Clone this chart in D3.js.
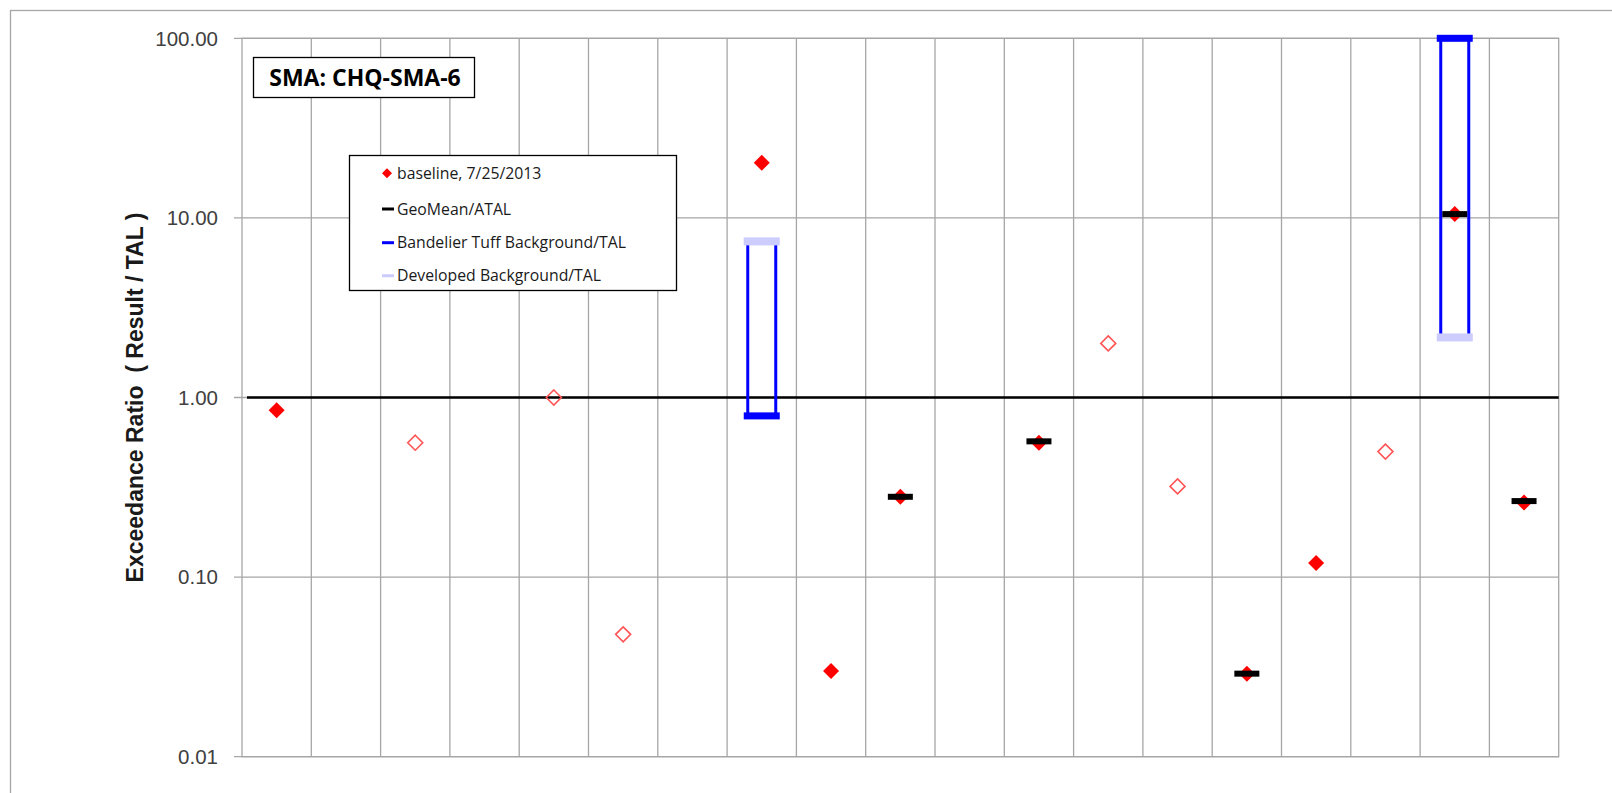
<!DOCTYPE html>
<html>
<head>
<meta charset="utf-8">
<script src="https://cdn.jsdelivr.net/npm/d3@7"></script>
<style>
  body { margin: 0; background: #fff; }
</style>
</head>
<body>
<script>
// Exceedance ratio chart, log scale, 19 analyte columns

var width = 1612;
var height = 793;

var categories = d3.range(19); // columns have no labels

// detected baseline results (filled diamonds)
var detectVals = [0.85, null, null, null, null, null, null, 20.3, 0.030, 0.28,
  null, 0.56, null, null, 0.029, 0.12, null, 10.5, 0.26];
// non-detect baseline results (open diamonds)
var nondetectVals = [null, null, 0.56, null, 1.0, 0.048, null, null, null, null,
  null, null, 2.0, 0.32, null, null, 0.50, null, null];
var geoMeanVals = [null, null, null, null, null, null, null, null, null, 0.28,
  null, 0.57, null, null, 0.029, null, null, 10.5, 0.265];
var bandelierVals = [null, null, null, null, null, null, null, 0.79, null, null,
  null, null, null, null, null, null, null, 100, null];
var developedVals = [null, null, null, null, null, null, null, 7.4, null, null,
  null, null, null, null, null, null, null, 2.16, null];

var yTicks = [0.01, 0.1, 1, 10, 100];
var legendLabels = ["baseline, 7/25/2013", "GeoMean/ATAL",
  "Bandelier Tuff Background/TAL", "Developed Background/TAL"];

var plot = { left: 242, right: 1558.7, top: 38.3, bottom: 756.7 };

var xScale = d3.scaleBand()
               .domain(categories)
               .range([plot.left, plot.right]);

var yScale = d3.scaleLog()
               .domain([0.01, 100])
               .range([plot.bottom, plot.top]);

var cx = function(i){ return xScale(i) + xScale.bandwidth() / 2; };

var svg = d3.select("body")
            .append("svg")
            .attr("width", width)
            .attr("height", height);

// outer chart frame
svg.append("rect")
   .attr("x", 10.5).attr("y", 10.5)
   .attr("width", 1700).attr("height", 900)
   .attr("fill", "none")
   .attr("stroke", "#a6a6a6")
   .attr("stroke-width", 1.3);

// gridlines
var grid = svg.append("g").attr("stroke", "#a6a6a6").attr("stroke-width", 1.3);

grid.selectAll("line.v")
    .data(categories.slice(1))
    .enter()
    .append("line")
    .attr("x1", function(d){ return xScale(d); })
    .attr("x2", function(d){ return xScale(d); })
    .attr("y1", plot.top)
    .attr("y2", plot.bottom);

grid.selectAll("line.h")
    .data(yTicks)
    .enter()
    .append("line")
    .attr("x1", plot.left - 8)
    .attr("x2", plot.right)
    .attr("y1", function(d){ return yScale(d); })
    .attr("y2", function(d){ return yScale(d); });

grid.append("rect")
    .attr("x", plot.left).attr("y", plot.top)
    .attr("width", plot.right - plot.left)
    .attr("height", plot.bottom - plot.top)
    .attr("fill", "none");

// y axis labels
svg.selectAll("text.tick")
   .data(yTicks)
   .enter()
   .append("text")
   .attr("class", "tick")
   .attr("x", 218)
   .attr("y", function(d){ return yScale(d); })
   .attr("dy", "0.36em")
   .attr("text-anchor", "end")
   .attr("font-family", "Liberation Sans, Arial, sans-serif")
   .attr("font-size", "20.5px")
   .attr("fill", "#404040")
   .text(function(d){ return d3.format(".2f")(d); });

svg.append("text")
   .attr("transform", "translate(143," + ((plot.top + plot.bottom) / 2) + ") rotate(-90)")
   .attr("text-anchor", "middle")
   .attr("font-family", "Liberation Sans, Arial, sans-serif")
   .attr("font-weight", "bold")
   .attr("font-size", "23px")
   .attr("fill", "#1a1a1a")
   .attr("xml:space", "preserve")
   .text("Exceedance Ratio  ( Result / TAL )");

// TAL = 1 reference line
svg.append("line")
   .attr("x1", plot.left + 5)
   .attr("x2", plot.right)
   .attr("y1", yScale(1))
   .attr("y2", yScale(1))
   .attr("stroke", "#000")
   .attr("stroke-width", 2.6);

// background range boxes
var bgIdx = categories.filter(function(i){ return bandelierVals[i] != null; });
var half = 14;

svg.selectAll("line.bgl")
   .data(bgIdx)
   .enter()
   .append("line")
   .attr("x1", function(i){ return cx(i) - half; })
   .attr("x2", function(i){ return cx(i) - half; })
   .attr("y1", function(i){ return yScale(bandelierVals[i]); })
   .attr("y2", function(i){ return yScale(developedVals[i]); })
   .attr("stroke", "#0000ff").attr("stroke-width", 3);

svg.selectAll("line.bgr")
   .data(bgIdx)
   .enter()
   .append("line")
   .attr("x1", function(i){ return cx(i) + half; })
   .attr("x2", function(i){ return cx(i) + half; })
   .attr("y1", function(i){ return yScale(bandelierVals[i]); })
   .attr("y2", function(i){ return yScale(developedVals[i]); })
   .attr("stroke", "#0000ff").attr("stroke-width", 3);

svg.selectAll("rect.dev")
   .data(bgIdx)
   .enter()
   .append("rect")
   .attr("x", function(i){ return cx(i) - 18; })
   .attr("y", function(i){ return yScale(developedVals[i]) - 4; })
   .attr("width", 36).attr("height", 8)
   .attr("fill", "#ccccff");

svg.selectAll("rect.band")
   .data(bgIdx)
   .enter()
   .append("rect")
   .attr("x", function(i){ return cx(i) - 18; })
   .attr("y", function(i){ return yScale(bandelierVals[i]) - 3.5; })
   .attr("width", 36).attr("height", 7)
   .attr("fill", "#0000ff");

// diamonds
var diamond = function(r){
  return "M0," + (-r) + "L" + r + ",0L0," + r + "L" + (-r) + ",0Z";
};

svg.selectAll("path.nd")
   .data(categories.filter(function(i){ return nondetectVals[i] != null; }))
   .enter()
   .append("path")
   .attr("d", diamond(7.5))
   .attr("transform", function(i){ return "translate(" + cx(i) + "," + yScale(nondetectVals[i]) + ")"; })
   .attr("fill", "none")
   .attr("stroke", "#ff5555")
   .attr("stroke-width", 1.6);

svg.selectAll("path.det")
   .data(categories.filter(function(i){ return detectVals[i] != null; }))
   .enter()
   .append("path")
   .attr("d", diamond(8))
   .attr("transform", function(i){ return "translate(" + cx(i) + "," + yScale(detectVals[i]) + ")"; })
   .attr("fill", "#ff0000");

// geomean dashes
svg.selectAll("rect.gm")
   .data(categories.filter(function(i){ return geoMeanVals[i] != null; }))
   .enter()
   .append("rect")
   .attr("x", function(i){ return cx(i) - 12.5; })
   .attr("y", function(i){ return yScale(geoMeanVals[i]) - 3; })
   .attr("width", 25).attr("height", 6)
   .attr("fill", "#000");

// title box
svg.append("rect")
   .attr("x", 253.5).attr("y", 57.5)
   .attr("width", 221).attr("height", 40)
   .attr("fill", "#fff")
   .attr("stroke", "#000")
   .attr("stroke-width", 1.3);

svg.append("text")
   .attr("x", 365).attr("y", 78)
   .attr("dy", "0.36em")
   .attr("text-anchor", "middle")
   .attr("font-family", "Open Sans, sans-serif")
   .attr("font-weight", "bold")
   .attr("font-size", "23px")
   .attr("fill", "#000")
   .text("SMA: CHQ-SMA-6");

// legend
var legend = svg.append("g");

legend.append("rect")
      .attr("x", 349.5).attr("y", 155.5)
      .attr("width", 327).attr("height", 135)
      .attr("fill", "#fff")
      .attr("stroke", "#000")
      .attr("stroke-width", 1.3);

var rowY = [173.3, 209, 242.7, 275.7];
var legendColors = [null, "#000", "#0000ff", "#ccccff"];

legend.append("path")
      .attr("d", diamond(5))
      .attr("transform", "translate(387," + rowY[0] + ")")
      .attr("fill", "#ff0000");

legend.selectAll("line")
      .data([1, 2, 3])
      .enter()
      .append("line")
      .attr("x1", 382).attr("x2", 394)
      .attr("y1", function(d){ return rowY[d]; })
      .attr("y2", function(d){ return rowY[d]; })
      .attr("stroke", function(d){ return legendColors[d]; })
      .attr("stroke-width", 3);

legend.selectAll("text")
      .data(legendLabels)
      .enter()
      .append("text")
      .attr("x", 397)
      .attr("y", function(d, i){ return rowY[i]; })
      .attr("dy", "0.36em")
      .attr("font-family", "Open Sans, sans-serif")
      .attr("font-size", "15.8px")
      .attr("fill", "#1a1a1a")
      .text(function(d){ return d; });
</script>
</body>
</html>
